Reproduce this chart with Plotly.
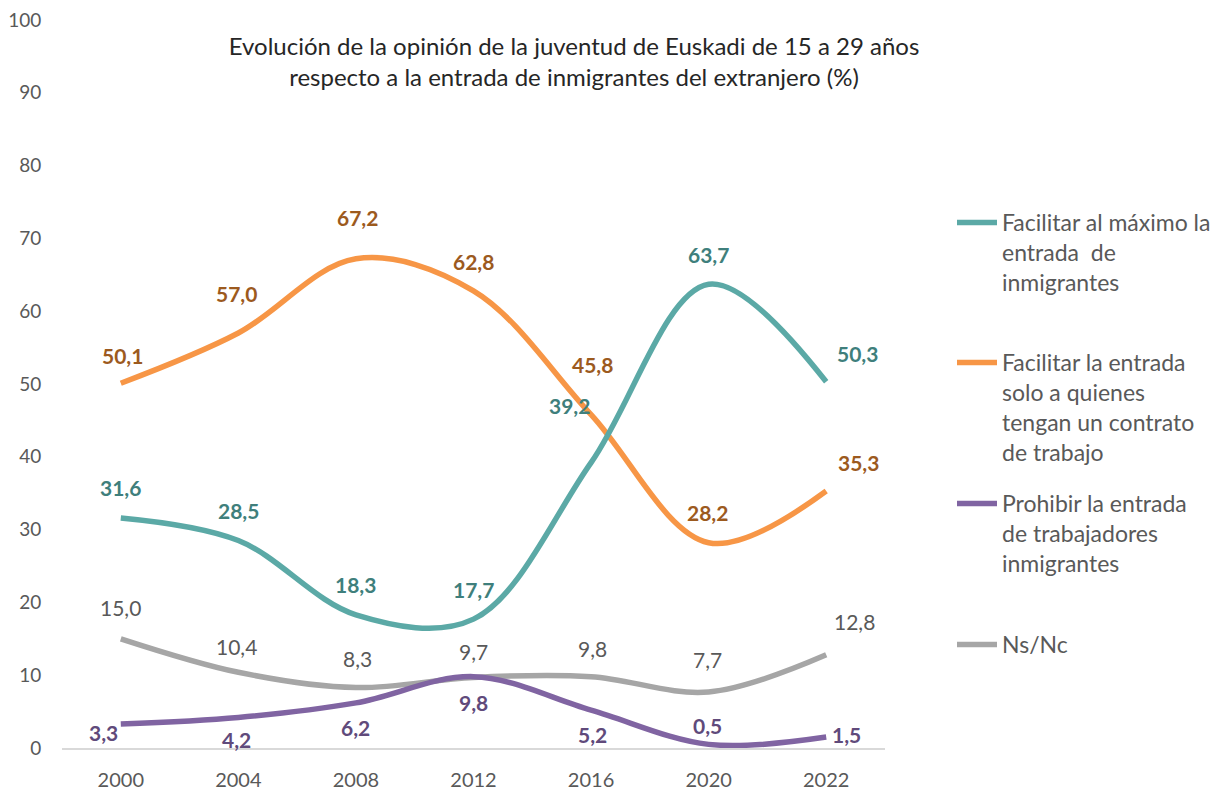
import plotly.graph_objects as go

years = ["2000", "2004", "2008", "2012", "2016", "2020", "2022"]
max_facilitar = [31.6, 28.5, 18.3, 17.7, 39.2, 63.7, 50.3]
contrato = [50.1, 57.0, 67.2, 62.8, 45.8, 28.2, 35.3]
prohibir = [3.3, 4.2, 6.2, 9.8, 5.2, 0.5, 1.5]
nsnc = [15.0, 10.4, 8.3, 9.7, 9.8, 7.7, 12.8]

names = [
    "Facilitar al máximo la<br>entrada  de<br>inmigrantes",
    "Facilitar la entrada<br>solo a quienes<br>tengan un contrato<br>de trabajo",
    "Prohibir la entrada<br>de trabajadores<br>inmigrantes",
    "Ns/Nc",
]
series = [max_facilitar, contrato, prohibir, nsnc]
line_colors = ["#5BA9A6", "#F79646", "#8064A2", "#A6A6A6"]
label_colors = ["#3F7F7C", "#9C5A1E", "#604A7B", "#595959"]
label_bold = [True, True, True, False]

FONT = "Lato"
W, H = 1225, 790
# plot area in page pixels: x 62..885, y 20..748
L, T = 62, 20
R = W - 885
B = H - 748
pw, ph = W - L - R, H - T - B

fig = go.Figure()
legend_ids = ["legend", "legend2", "legend3", "legend4"]
draw_order = [3, 2, 1, 0]
for i in draw_order:
    fig.add_trace(go.Scatter(
        x=years, y=series[i], name=names[i], mode="lines",
        line=dict(color=line_colors[i], width=5.5, shape="spline", smoothing=1.0),
        legend=legend_ids[i], hoverinfo="x+y",
    ))

# label offsets (xshift, yshift) in pixels per series per point
offsets = [
    [(0, 30), (0, 30), (0, 30), (0, 30), (-22, 57), (0, 30), (31, 28)],
    [(2, 28), (-2, 40), (2, 41), (0, 29), (1, 50), (-1, 30), (32, 29)],
    [(-17, -9), (-2, -22), (0, -25), (0, -26), (1, -24), (-1, 19), (20, 3)],
    [(0, 31), (-2, 26), (2, 29), (0, 26), (1, 28), (-1, 32), (28, 33)],
]

for i in range(4):
    for j, v in enumerate(series[i]):
        dx, dy = offsets[i][j]
        txt = f"{v:.1f}".replace(".", ",")
        if label_bold[i]:
            txt = f"<b>{txt}</b>"
        fig.add_annotation(
            x=j, y=v, xref="x", yref="y", text=txt, showarrow=False,
            xshift=dx, yshift=dy,
            font=dict(family=FONT, size=21, color=label_colors[i]),
        )

def px_x(px):
    return (px - L) / pw

def px_y(py):
    return 1 - (py - T) / ph

legend_tops = [201, 341, 482, 623]
layout_legends = {}
for k, lid in enumerate(legend_ids):
    layout_legends[lid] = dict(
        x=px_x(952), y=px_y(legend_tops[k]), xanchor="left", yanchor="top",
        bgcolor="rgba(0,0,0,0)", borderwidth=0, valign="top",
        font=dict(family=FONT, size=23, color="#595959"),
        itemwidth=40, tracegroupgap=0,
    )

fig.update_layout(
    width=W, height=H,
    margin=dict(l=L, r=R, t=T, b=B, autoexpand=False),
    paper_bgcolor="white", plot_bgcolor="white",
    showlegend=True,
    title=dict(
        text="Evolución de la opinión de la juventud de Euskadi de 15 a 29 años<br>respecto a la entrada de inmigrantes del extranjero (%)",
        x=574 / W, xanchor="center", xref="container",
        y=1 - 55 / H, yanchor="middle", yref="container",
        font=dict(family=FONT, size=24, color="#262626"),
    ),
    xaxis=dict(
        type="category", range=[-0.5, 6.5],
        showgrid=False, zeroline=False,
        showline=True, linecolor="#D9D9D9", linewidth=1.5,
        ticks="outside", ticklen=13, tickcolor="rgba(0,0,0,0)",
        tickfont=dict(family=FONT, size=20, color="#595959"),
    ),
    yaxis=dict(
        range=[0, 100], dtick=10, tick0=0,
        showgrid=False, zeroline=False, showline=False,
        ticks="outside", ticklen=16, tickcolor="rgba(0,0,0,0)",
        ticklabeloverflow="allow",
        tickfont=dict(family=FONT, size=19, color="#595959"),
    ),
    **layout_legends,
)

fig.write_html(
    "out.html",
    config={"displayModeBar": False},
    post_script="document.body.style.margin='0';document.body.style.overflow='hidden';",
)
